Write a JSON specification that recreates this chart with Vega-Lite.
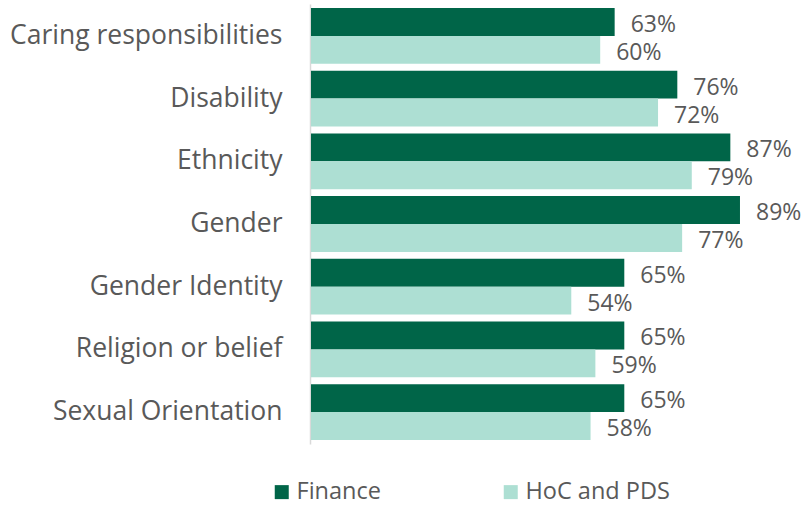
{
  "$schema": "https://vega.github.io/schema/vega-lite/v6.json",
  "width": 482,
  "height": 440,
  "autosize": {"type": "none"},
  "padding": {"left": 311, "top": 4, "right": 12, "bottom": 61},
  "background": "white",
  "config": {"view": {"stroke": null}, "font": "Open Sans"},
  "data": {
    "values": [
      {"category": "Caring responsibilities", "series": "Finance", "value": 0.63},
      {"category": "Caring responsibilities", "series": "HoC and PDS", "value": 0.60},
      {"category": "Disability", "series": "Finance", "value": 0.76},
      {"category": "Disability", "series": "HoC and PDS", "value": 0.72},
      {"category": "Ethnicity", "series": "Finance", "value": 0.87},
      {"category": "Ethnicity", "series": "HoC and PDS", "value": 0.79},
      {"category": "Gender", "series": "Finance", "value": 0.89},
      {"category": "Gender", "series": "HoC and PDS", "value": 0.77},
      {"category": "Gender Identity", "series": "Finance", "value": 0.65},
      {"category": "Gender Identity", "series": "HoC and PDS", "value": 0.54},
      {"category": "Religion or belief", "series": "Finance", "value": 0.65},
      {"category": "Religion or belief", "series": "HoC and PDS", "value": 0.59},
      {"category": "Sexual Orientation", "series": "Finance", "value": 0.65},
      {"category": "Sexual Orientation", "series": "HoC and PDS", "value": 0.58}
    ]
  },
  "encoding": {
    "y": {
      "field": "category",
      "type": "nominal",
      "sort": null,
      "scale": {"paddingInner": 0.11, "paddingOuter": 0.064},
      "axis": {
        "title": null,
        "ticks": false,
        "domainColor": "#d9d9d9",
        "domainWidth": 1.5,
        "labelFontSize": 26.5,
        "labelColor": "#595959",
        "labelPadding": 28,
        "labelLimit": 320,
        "offset": 1
      }
    },
    "yOffset": {"field": "series", "type": "nominal", "scale": {"paddingInner": 0, "paddingOuter": 0}},
    "x": {
      "field": "value",
      "type": "quantitative",
      "scale": {"domain": [0, 1], "nice": false},
      "axis": null
    }
  },
  "layer": [
    {
      "mark": {"type": "bar"},
      "encoding": {
        "color": {
          "field": "series",
          "type": "nominal",
          "scale": {"domain": ["Finance", "HoC and PDS"], "range": ["#006548", "#addfd3"]},
          "legend": {
            "title": null,
            "orient": "none",
            "direction": "horizontal",
            "legendX": -41,
            "legendY": 476,
            "symbolType": "square",
            "symbolSize": 196,
            "symbolStrokeWidth": 0,
            "labelFontSize": 23.5,
            "labelColor": "#595959",
            "labelOffset": 3,
            "columnPadding": 118,
            "padding": 0
          }
        }
      }
    },
    {
      "mark": {"type": "text", "align": "left", "baseline": "middle", "dx": 16, "dy": 3, "fontSize": 23, "color": "#595959"},
      "encoding": {
        "text": {"field": "value", "type": "quantitative", "format": ".0%"}
      }
    }
  ]
}
